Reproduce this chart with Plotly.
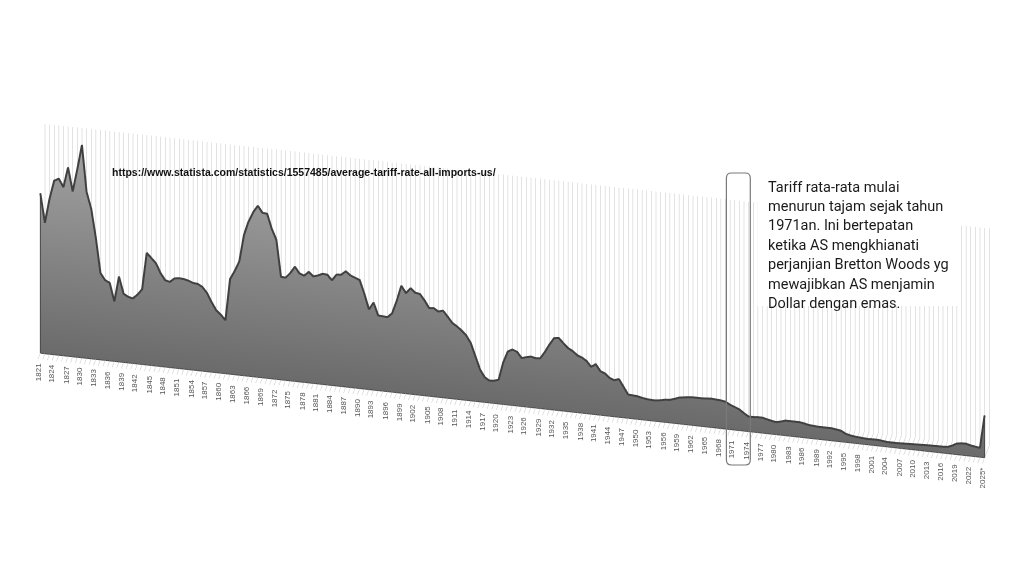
import math
import plotly.graph_objects as go

# ---------------- data ----------------
years = list(range(1821, 2026))
tariff_pct = [
    44.2, 36.2, 43.0, 48.1, 48.8, 46.6, 52.2, 45.7, 52.0, 58.8,   # 1821-1830
    46.0, 41.5, 33.6, 24.0, 22.2, 21.6, 16.6, 23.6, 19.0, 18.3,   # 1831-1840
    18.0, 19.2, 20.8, 31.0, 29.7, 28.4, 25.8, 24.0, 23.7, 24.8,   # 1841-1850
    25.0, 24.9, 24.6, 24.1, 24.0, 23.3, 21.8, 19.4, 17.3, 16.2,   # 1851-1860
    14.8, 26.3, 28.7, 31.5, 38.9, 42.8, 45.5, 47.4, 45.6, 45.5,   # 1861-1870
    41.5, 38.6, 28.5, 28.4, 29.8, 31.7, 30.0, 29.5, 30.7, 29.6,   # 1871-1880
    30.0, 30.6, 30.5, 29.1, 30.8, 30.9, 32.0, 31.0, 30.5, 30.0,   # 1881-1890
    26.4, 22.2, 24.2, 20.8, 20.7, 20.6, 21.8, 25.4, 29.7, 27.8,   # 1891-1900
    29.3, 28.2, 28.0, 26.4, 24.4, 24.5, 23.7, 24.1, 22.6, 21.0,   # 1901-1910
    20.2, 19.2, 18.0, 16.0, 12.5, 9.0, 7.0, 6.2, 6.3, 6.7,        # 1911-1920
    11.6, 14.8, 15.5, 15.0, 13.4, 13.8, 14.1, 13.8, 13.9, 15.8,   # 1921-1930
    18.0, 19.9, 20.1, 18.8, 17.6, 16.9, 15.9, 15.4, 14.6, 13.1,   # 1931-1940
    14.0, 12.2, 11.7, 10.6, 10.1, 10.6, 8.6, 6.6, 6.5, 6.4,       # 1941-1950
    6.1, 5.9, 5.8, 5.8, 6.0, 6.3, 6.4, 6.8, 7.3, 7.5,             # 1951-1960
    7.7, 7.8, 7.8, 7.8, 7.9, 8.0, 7.9, 7.8, 7.6, 6.9,             # 1961-1970
    6.4, 5.9, 5.0, 4.2, 4.2, 4.3, 4.3, 4.0, 3.7, 3.5,             # 1971-1980
    3.8, 4.2, 4.2, 4.2, 4.2, 4.0, 3.7, 3.6, 3.5, 3.5,             # 1981-1990
    3.5, 3.5, 3.3, 3.1, 2.4, 2.1, 1.9, 1.8, 1.7, 1.65,            # 1991-2000
    1.7, 1.7, 1.55, 1.4, 1.4, 1.4, 1.45, 1.5, 1.55, 1.6,          # 2001-2010
    1.65, 1.7, 1.75, 1.77, 1.8, 1.8, 1.9, 2.4, 3.1, 3.3,          # 2011-2020
    3.35, 3.0, 2.8, 2.6, 11.7,                                    # 2021-2025*
]
tick_years = list(range(1821, 2026, 3))
tick_text = [str(y) for y in tick_years[:-1]] + ["2025*"]
highlight_years = [1971, 1974]

source_url = "https://www.statista.com/statistics/1557485/average-tariff-rate-all-imports-us/"
note_lines = [
    "Tariff rata-rata mulai",
    "menurun tajam sejak tahun",
    "1971an. Ini bertepatan",
    "ketika AS mengkhianati",
    "perjanjian Bretton Woods yg",
    "mewajibkan AS menjamin",
    "Dollar dengan emas.",
]

# ---------------- 3-D layout constants ----------------
Z_MAX = 60
D_FRONT, D_FACE, D_WALL = 0.0, 0.35, 1.0
OFF = 8                       # page margin around the plot div
W, H = 1024 - 2 * OFF, 576 - 2 * OFF
GRID = "#c6c6c6"

n = len(years)
fig = go.Figure()

# back-wall grid (one vertical line per year) and floor grid
gx, gy, gz = [], [], []
fx_, fy_, fz_ = [], [], []
for yr in years:
    gx += [yr, yr, None]; gy += [D_WALL, D_WALL, None]; gz += [0, Z_MAX, None]
    fx_ += [yr, yr, None]; fy_ += [D_FRONT, D_WALL, None]; fz_ += [0, 0, None]
fig.add_trace(go.Scatter3d(x=gx, y=gy, z=gz, mode="lines",
                           line=dict(color=GRID, width=1), hoverinfo="skip"))
fig.add_trace(go.Scatter3d(x=fx_, y=fy_, z=fz_, mode="lines",
                           line=dict(color=GRID, width=1), hoverinfo="skip"))

# area front face
mx = years + years
my = [D_FACE] * (2 * n)
mz = [0] * n + tariff_pct
ii, jj, kk = [], [], []
for m in range(n - 1):
    ii += [m, m + 1]
    jj += [m + 1, n + m + 1]
    kk += [n + m, n + m]
fig.add_trace(go.Mesh3d(
    x=mx, y=my, z=mz, i=ii, j=jj, k=kk,
    intensity=mz, cmin=0, cmax=Z_MAX,
    colorscale=[[0, "#6b6b6b"], [1, "#a4a4a4"]], showscale=False,
    flatshading=True,
    lighting=dict(ambient=1.0, diffuse=0.0, specular=0.0, roughness=1.0, fresnel=0.0),
    hoverinfo="skip"))

# outline of the area
ox = [years[0]] + years + [years[-1], years[0]]
oz = [0] + tariff_pct + [0, 0]
fig.add_trace(go.Scatter3d(x=ox, y=[D_FACE - 0.02] * len(ox), z=oz, mode="lines",
                           line=dict(color="#4a4a4a", width=2), hoverinfo="skip"))
fig.add_trace(go.Scatter3d(x=years, y=[D_FACE - 0.03] * n, z=tariff_pct, mode="lines",
                           line=dict(color="#404040", width=4), hoverinfo="skip"))

# camera (orthographic, Excel-like rotation)
psi = math.radians(11.7)
pitch = math.radians(32.3)
dist = 1.873
center = dict(x=-0.0059, y=-0.0012, z=0.0242)
eye = dict(x=center["x"] + dist * math.sin(psi) * math.cos(pitch),
           y=center["y"] - dist * math.cos(psi) * math.cos(pitch),
           z=center["z"] + dist * math.sin(pitch))

axis_off = dict(visible=False, showgrid=False, zeroline=False, showbackground=False)
scene_ann = [dict(x=yr, y=D_FRONT, z=0, text=t, textangle=-90, showarrow=False,
                  xanchor="center", yanchor="top", yshift=-2,
                  font=dict(size=8, color="#555555", family="Liberation Sans"))
             for yr, t in zip(tick_years, tick_text)]

fig.update_layout(
    width=W, height=H, margin=dict(l=0, r=0, t=0, b=0),
    paper_bgcolor="white", showlegend=False,
    scene=dict(
        domain=dict(x=[0, 1], y=[0, 1]),
        xaxis=dict(range=[years[0], years[-1]], **axis_off),
        yaxis=dict(range=[D_FRONT, D_WALL], **axis_off),
        zaxis=dict(range=[0, Z_MAX], **axis_off),
        aspectmode="manual", aspectratio=dict(x=3.444, y=0.1228, z=0.918),
        camera=dict(projection=dict(type="orthographic"), eye=eye,
                    center=center, up=dict(x=0, y=0, z=1)),
        bgcolor="white",
        annotations=scene_ann,
    ),
)

def px(x):
    return (x - OFF) / W

def py(y):
    return 1 - (y - OFF) / H

# horizontal page position of a year label on the front floor edge
def year_px(yr):
    return 39 + (yr - years[0]) * 945 / (years[-1] - years[0]) - 2.45

hl0 = year_px(highlight_years[0]) - 5
hl1 = year_px(highlight_years[1]) + 5
box_l = hl1 + 7

# white box behind the note, rounded highlight rectangle
fig.add_shape(type="rect", xref="paper", yref="paper",
              x0=px(box_l), x1=px(box_l + 202), y0=py(306), y1=py(150),
              fillcolor="white", line=dict(width=0), layer="above")
r_x, r_y = 5 / W, 5 / H
x0, x1, y0, y1 = px(hl0), px(hl1), py(465), py(173)
path = (f"M {x0 + r_x},{y1} L {x1 - r_x},{y1} Q {x1},{y1} {x1},{y1 - r_y} "
        f"L {x1},{y0 + r_y} Q {x1},{y0} {x1 - r_x},{y0} L {x0 + r_x},{y0} "
        f"Q {x0},{y0} {x0},{y0 + r_y} L {x0},{y1 - r_y} Q {x0},{y1} {x0 + r_x},{y1} Z")
fig.add_shape(type="path", xref="paper", yref="paper", path=path,
              line=dict(color="#7a7a7a", width=1.2), layer="above")

fig.add_annotation(xref="paper", yref="paper", x=px(110), y=py(172),
                   text=f"<b>{source_url}</b>", showarrow=False,
                   xanchor="left", yanchor="middle",
                   font=dict(size=10.5, color="#111111", family="Liberation Sans"))
for i, line in enumerate(note_lines):
    fig.add_annotation(xref="paper", yref="paper", x=px(box_l + 9), y=py(187 + 19.4 * i),
                       text=line, showarrow=False, xanchor="left", yanchor="middle",
                       font=dict(size=14.5, color="#1a1a1a", family="Roboto"))

fig.write_html("out.html")
